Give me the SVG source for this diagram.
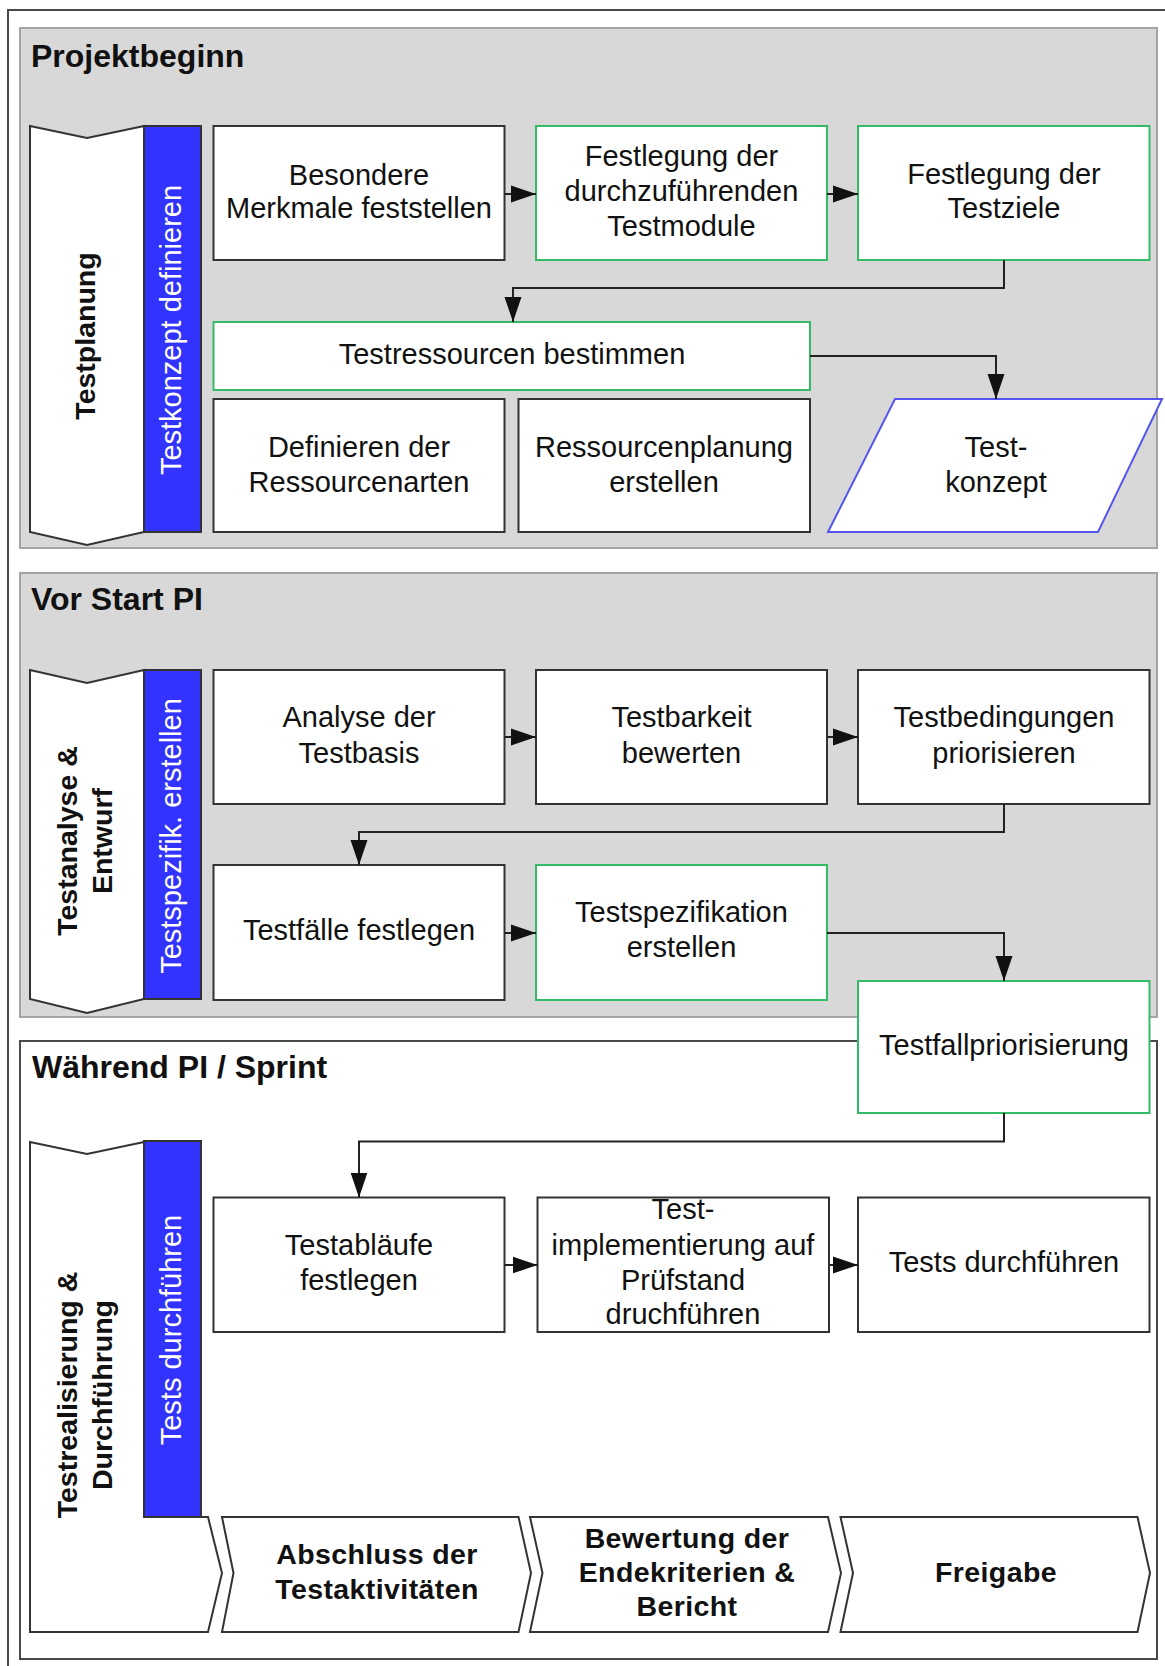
<svg xmlns="http://www.w3.org/2000/svg" width="1165" height="1666" viewBox="0 0 1165 1666">
  <defs>
    <style>
      .frame { fill: #ffffff; stroke: #4a4a4a; stroke-width: 2; }
      .panel { fill: #d8d8d8; stroke: #a4a4a4; stroke-width: 2; }
      .panel-white { fill: #ffffff; stroke: #4a4a4a; stroke-width: 2; }
      .hdr { font-family: "Liberation Sans", Arial, sans-serif; font-size: 32px; font-weight: bold; fill: #111; }
      .lane { fill: #ffffff; stroke: #333; stroke-width: 2; stroke-linejoin: miter; }
      .bar { fill: #3333ff; stroke: #333; stroke-width: 2; }
      .lane-t { font-family: "Liberation Sans", Arial, sans-serif; font-size: 28.5px; font-weight: bold; fill: #111; text-anchor: middle; }
      .bar-t { font-family: "Liberation Sans", Arial, sans-serif; font-size: 29px; fill: #ffffff; text-anchor: middle; }
      .box { fill: #ffffff; stroke: #333; stroke-width: 2; }
      .box-g { fill: #ffffff; stroke: #33bb66; stroke-width: 2; }
      .doc { fill: #ffffff; stroke: #5555ee; stroke-width: 2; }
      .t { font-family: "Liberation Sans", Arial, sans-serif; font-size: 29px; fill: #111; text-anchor: middle; }
      .step { fill: #ffffff; stroke: #333; stroke-width: 2; }
      .step-t { font-family: "Liberation Sans", Arial, sans-serif; font-size: 28.5px; font-weight: bold; fill: #111; text-anchor: middle; letter-spacing: 0.4px; }
      .conn { fill: none; stroke: #222; stroke-width: 2; marker-end: url(#arrow); }
    </style>
    <marker id="arrow" markerUnits="userSpaceOnUse" markerWidth="25" markerHeight="18" refX="25" refY="9" orient="auto">
      <path d="M0,0.5 L25,9 L0,17.5 z" fill="#111"/>
    </marker>
  </defs>

  <!-- page frame -->
  <rect class="frame" x="8" y="10" width="1200" height="1700"/>

  <!-- phase panels -->
  <g id="phase-projektbeginn">
    <rect class="panel" x="20" y="28" width="1137" height="520"/>
    <text class="hdr" x="31" y="67">Projektbeginn</text>
  </g>
  <g id="phase-vor-start">
    <rect class="panel" x="20" y="573" width="1137" height="444"/>
    <text class="hdr" x="31" y="610">Vor Start PI</text>
  </g>
  <g id="phase-waehrend">
    <rect class="panel-white" x="20" y="1041" width="1137" height="618"/>
    <text class="hdr" x="32" y="1078">Während PI / Sprint</text>
  </g>

  <!-- swimlane headers -->
  <g id="lane-testplanung">
    <polygon class="lane" points="30,126 87,138 144,126 144,532 87,545 30,532"/>
    <text class="lane-t" x="95" y="336" transform="rotate(-90 95 336)">Testplanung</text>
  </g>
  <g id="bar-testkonzept">
    <rect class="bar" x="144" y="126" width="57" height="406"/>
    <text class="bar-t" x="181" y="330" transform="rotate(-90 181 330)">Testkonzept definieren</text>
  </g>

  <g id="lane-testanalyse">
    <polygon class="lane" points="30,670 87,683 144,670 144,999 87,1013 30,999"/>
    <text class="lane-t" transform="rotate(-90 77 841)"><tspan x="77" y="841">Testanalyse &amp;</tspan></text>
    <text class="lane-t" transform="rotate(-90 112 841)"><tspan x="112" y="841">Entwurf</tspan></text>
  </g>
  <g id="bar-testspezifik">
    <rect class="bar" x="144" y="670" width="57" height="329"/>
    <text class="bar-t" x="181" y="836" transform="rotate(-90 181 836)">Testspezifik. erstellen</text>
  </g>

  <g id="lane-testrealisierung">
    <polygon class="lane" points="30,1142 87,1154 144,1142 144,1517 208,1517 222,1573 208,1632 30,1632"/>
    <text class="lane-t" transform="rotate(-90 77 1395)"><tspan x="77" y="1395">Testrealisierung &amp;</tspan></text>
    <text class="lane-t" transform="rotate(-90 112 1395)"><tspan x="112" y="1395">Durchführung</tspan></text>
  </g>
  <g id="bar-tests-durchfuehren">
    <rect class="bar" x="144" y="1141" width="57" height="376"/>
    <text class="bar-t" x="181" y="1330" transform="rotate(-90 181 1330)">Tests durchführen</text>
  </g>

  <!-- Projektbeginn nodes -->
  <g id="n-merkmale">
    <rect class="box" x="213.5" y="126" width="291" height="134"/>
    <text class="t" x="359" y="185">Besondere</text>
    <text class="t" x="359" y="218">Merkmale feststellen</text>
  </g>
  <g id="n-testmodule">
    <rect class="box-g" x="536" y="126" width="291" height="134"/>
    <text class="t" x="681.5" y="166">Festlegung der</text>
    <text class="t" x="681.5" y="201">durchzuführenden</text>
    <text class="t" x="681.5" y="236">Testmodule</text>
  </g>
  <g id="n-testziele">
    <rect class="box-g" x="858" y="126" width="291.5" height="134"/>
    <text class="t" x="1004" y="184">Festlegung der</text>
    <text class="t" x="1004" y="218">Testziele</text>
  </g>
  <g id="n-testressourcen">
    <rect class="box-g" x="213.5" y="322" width="596.5" height="68"/>
    <text class="t" x="512" y="364">Testressourcen bestimmen</text>
  </g>
  <g id="n-ressourcenarten">
    <rect class="box" x="213.5" y="399" width="291" height="133"/>
    <text class="t" x="359" y="457">Definieren der</text>
    <text class="t" x="359" y="492">Ressourcenarten</text>
  </g>
  <g id="n-ressourcenplanung">
    <rect class="box" x="518.5" y="399" width="291.5" height="133"/>
    <text class="t" x="664" y="457">Ressourcenplanung</text>
    <text class="t" x="664" y="492">erstellen</text>
  </g>
  <g id="n-testkonzept">
    <polygon class="doc" points="895,399 1162,399 1098,532 828,532"/>
    <text class="t" x="996" y="457">Test-</text>
    <text class="t" x="996" y="492">konzept</text>
  </g>

  <!-- Vor Start PI nodes -->
  <g id="n-analyse">
    <rect class="box" x="213.5" y="670" width="291" height="134"/>
    <text class="t" x="359" y="727">Analyse der</text>
    <text class="t" x="359" y="763">Testbasis</text>
  </g>
  <g id="n-testbarkeit">
    <rect class="box" x="536" y="670" width="291" height="134"/>
    <text class="t" x="681.5" y="727">Testbarkeit</text>
    <text class="t" x="681.5" y="763">bewerten</text>
  </g>
  <g id="n-testbedingungen">
    <rect class="box" x="858" y="670" width="291.5" height="134"/>
    <text class="t" x="1004" y="727">Testbedingungen</text>
    <text class="t" x="1004" y="763">priorisieren</text>
  </g>
  <g id="n-testfaelle">
    <rect class="box" x="213.5" y="865" width="291" height="135"/>
    <text class="t" x="359" y="940">Testfälle festlegen</text>
  </g>
  <g id="n-testspezifikation">
    <rect class="box-g" x="536" y="865" width="291" height="135"/>
    <text class="t" x="681.5" y="922">Testspezifikation</text>
    <text class="t" x="681.5" y="957">erstellen</text>
  </g>
  <g id="n-testfallpriorisierung">
    <rect class="box-g" x="858" y="981" width="291.5" height="132"/>
    <text class="t" x="1004" y="1055">Testfallpriorisierung</text>
  </g>

  <!-- Während PI / Sprint nodes -->
  <g id="n-testablaeufe">
    <rect class="box" x="213.5" y="1197.5" width="291" height="134.5"/>
    <text class="t" x="359" y="1254.5">Testabläufe</text>
    <text class="t" x="359" y="1289.5">festlegen</text>
  </g>
  <g id="n-testimplementierung">
    <rect class="box" x="537.5" y="1197.5" width="291.5" height="134.5"/>
    <text class="t" x="683" y="1219">Test-</text>
    <text class="t" x="683" y="1254.5">implementierung auf</text>
    <text class="t" x="683" y="1289.5">Prüfstand</text>
    <text class="t" x="683" y="1324">druchführen</text>
  </g>
  <g id="n-tests-durchfuehren">
    <rect class="box" x="858" y="1197.5" width="291.5" height="134.5"/>
    <text class="t" x="1004" y="1271.5">Tests durchführen</text>
  </g>

  <!-- closing steps -->
  <g id="s-abschluss">
    <polygon class="step" points="222,1517 518.5,1517 531,1573 518.5,1632 222,1632 233.5,1573"/>
    <text class="step-t" x="377" y="1564">Abschluss der</text>
    <text class="step-t" x="377" y="1599">Testaktivitäten</text>
  </g>
  <g id="s-bewertung">
    <polygon class="step" points="530,1517 828,1517 841,1573 828,1632 530,1632 542.5,1573"/>
    <text class="step-t" x="687" y="1548">Bewertung der</text>
    <text class="step-t" x="687" y="1582">Endekriterien &amp;</text>
    <text class="step-t" x="687" y="1616">Bericht</text>
  </g>
  <g id="s-freigabe">
    <polygon class="step" points="840.5,1517 1137.5,1517 1150,1573 1137.5,1632 840.5,1632 853,1573"/>
    <text class="step-t" x="996" y="1582">Freigabe</text>
  </g>

  <!-- connectors -->
  <g id="connectors">
    <path class="conn" d="M504.5,194 L536,194"/>
    <path class="conn" d="M827,194 L858,194"/>
    <path class="conn" d="M1004,260 L1004,288 L513,288 L513,322"/>
    <path class="conn" d="M810,356 L996,356 L996,399"/>
    <path class="conn" d="M504.5,737 L536,737"/>
    <path class="conn" d="M827,737 L858,737"/>
    <path class="conn" d="M1004,804 L1004,832 L359,832 L359,865"/>
    <path class="conn" d="M504.5,933 L536,933"/>
    <path class="conn" d="M827,933 L1004,933 L1004,981"/>
    <path class="conn" d="M1004,1113 L1004,1141.5 L359,1141.5 L359,1197.5"/>
    <path class="conn" d="M504.5,1265 L537.5,1265"/>
    <path class="conn" d="M829,1265 L858,1265"/>
  </g>
</svg>
